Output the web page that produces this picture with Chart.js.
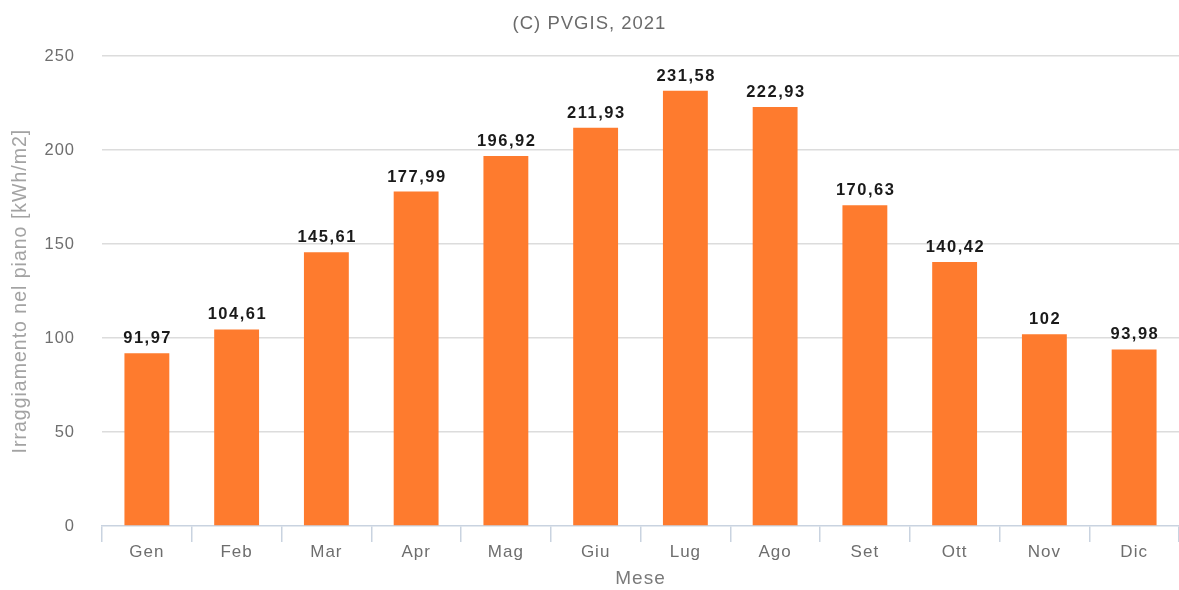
<!DOCTYPE html>
<html>
<head>
<meta charset="utf-8">
<script src="https://cdn.jsdelivr.net/npm/chart.js@4/dist/chart.umd.min.js"></script>
<style>
  html, body { margin: 0; padding: 0; background: #ffffff; }
  #wrap { width: 1179px; height: 590px; position: relative; }
</style>
</head>
<body>
<div id="wrap"><canvas id="c"></canvas></div>
<script>
// Monthly in-plane irradiation (kWh/m2)
const months = ['Gen', 'Feb', 'Mar', 'Apr', 'Mag', 'Giu', 'Lug', 'Ago', 'Set', 'Ott', 'Nov', 'Dic'];
const irradiation = [91.97, 104.61, 145.61, 177.99, 196.92, 211.93, 231.58, 222.93, 170.63, 140.42, 102, 93.98];
const yTicks = [0, 50, 100, 150, 200, 250];

const fontFamily = '"Liberation Sans", Arial, Helvetica, sans-serif';

// Slightly wider text tracking for every label on the canvas
const tracking = {
  id: 'tracking',
  beforeLayout(chart) { chart.ctx.letterSpacing = '1px'; },
  beforeDraw(chart) { chart.ctx.letterSpacing = '1px'; }
};

// Writes each bar's value above it, Italian decimal style
const valueLabels = {
  id: 'valueLabels',
  afterDatasetsDraw(chart) {
    const ctx = chart.ctx;
    const meta = chart.getDatasetMeta(0);
    ctx.save();
    ctx.letterSpacing = '1.5px';
    ctx.font = 'bold 16.5px ' + fontFamily;
    ctx.fillStyle = '#1a1a1a';
    ctx.textAlign = 'center';
    ctx.textBaseline = 'alphabetic';
    meta.data.forEach((bar, i) => {
      const txt = irradiation[i].toLocaleString('it-IT', { maximumFractionDigits: 2 });
      ctx.fillText(txt, bar.x + 0.75, bar.y - 10);
    });
    ctx.restore();
  }
};

new Chart(document.getElementById('c'), {
  type: 'bar',
  data: {
    labels: months,
    datasets: [{
      data: irradiation,
      backgroundColor: '#fe7b2e',
      borderWidth: 0,
      categoryPercentage: 1.0,
      barPercentage: 0.5
    }]
  },
  options: {
    responsive: true,
    maintainAspectRatio: false,
    animation: false,
    layout: { padding: { left: 0, right: 0, top: 0, bottom: 0 } },
    plugins: {
      legend: { display: false },
      tooltip: { enabled: false },
      title: {
        display: true,
        text: '(C) PVGIS, 2021',
        color: '#6b6b6b',
        font: { family: fontFamily, size: 18.5, weight: 'normal' },
        padding: { top: 13, bottom: 21 }
      }
    },
    scales: {
      x: {
        offset: true,
        grid: {
          offset: true,
          drawOnChartArea: false,
          drawTicks: true,
          tickLength: 16,
          color: '#c9d3e0',
          lineWidth: 1.5
        },
        border: { display: true, color: '#c9d3e0', width: 1.5 },
        ticks: {
          color: '#6e6e6e',
          font: { family: fontFamily, size: 17 },
          padding: 0,
          maxRotation: 0
        },
        title: {
          display: true,
          text: 'Mese',
          color: '#7a7a7a',
          font: { family: fontFamily, size: 19 },
          padding: { top: 0, bottom: 0 }
        },
        afterFit(scale) { scale.height = 64; }
      },
      y: {
        min: 0,
        max: 250,
        afterBuildTicks(scale) { scale.ticks = yTicks.map(v => ({ value: v })); },
        grid: {
          drawTicks: false,
          color: (c) => c.tick && c.tick.value === 0 ? 'rgba(0,0,0,0)' : '#dcdcdc',
          lineWidth: 1.5
        },
        border: { display: false },
        ticks: {
          color: '#6e6e6e',
          font: { family: fontFamily, size: 16.5 },
          padding: 27
        },
        title: {
          display: true,
          text: 'Irraggiamento nel piano [kWh/m2]',
          color: '#a3a3a3',
          font: { family: fontFamily, size: 19.5 },
          padding: { top: 9, bottom: 0 }
        },
        afterFit(scale) { scale.width = 102; }
      }
    }
  },
  plugins: [tracking, valueLabels]
});
</script>
</body>
</html>
